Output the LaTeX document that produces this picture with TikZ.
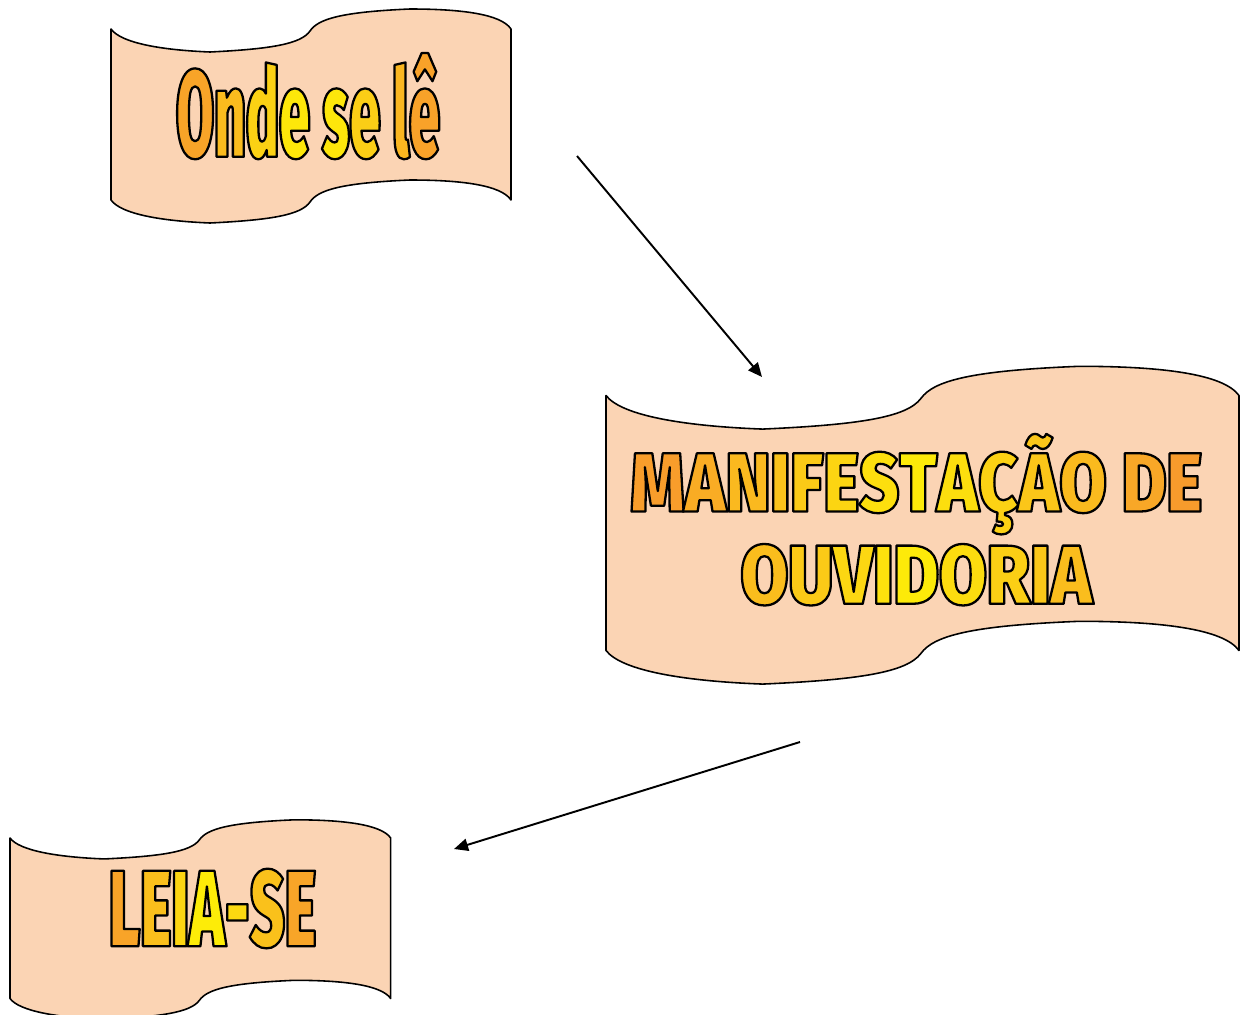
\documentclass[tikz,border=0pt]{standalone}
\usepackage{fontspec}
\usetikzlibrary{arrows.meta}
\definecolor{bannerfill}{HTML}{FBD4B4}
\definecolor{waOrange}{HTML}{F7962E}
\definecolor{waYellow}{HTML}{FFFF00}
% base face for the WordArt texts: the heaviest one that is found
\IfFontExistsTF{Fira Sans Black}
  {\newcommand\artfontname{Fira Sans Black}}
  {\IfFontExistsTF{Fira Sans Heavy}
    {\newcommand\artfontname{Fira Sans Heavy}}
    {\IfFontExistsTF{Lato Black}
      {\newcommand\artfontname{Lato Black}}
      {\IfFontExistsTF{Fira Sans ExtraBold}
        {\newcommand\artfontname{Fira Sans ExtraBold}}
        {\newcommand\artfontname{DejaVu Sans Bold}}}}}
% stroked outline: fill in the current colour, black stroke
\newcommand\artstroke{\special{pdf:literal direct 2 Tr 1.3 w 1 j}}
\newcommand\lc[2]{{\color{waYellow!#1!waOrange}\special{pdf:literal direct 0 G}#2}}
% texts, letter by letter coloured (yellow centre, orange ends)
\newcommand\txtOnde{\lc{13}{O}\lc{35}{n}\lc{56}{d}\lc{77}{e} \lc{76}{s}\lc{53}{e} \lc{30}{l}\lc{11}{ê}}
\newcommand\txtManif{\lc{7}{M}\lc{21}{A}\lc{33}{N}\lc{42}{I}\lc{50}{F}\lc{60}{E}\lc{70}{S}\lc{80}{T}\lc{69}{A}\lc{57}{Ç}\lc{46}{Ã}\lc{34}{O} \lc{16}{D}\lc{5}{E}}
\newcommand\txtOuvid{\lc{37}{O}\lc{50}{U}\lc{62}{V}\lc{71}{I}\lc{80}{D}\lc{67}{O}\lc{54}{R}\lc{46}{I}\lc{37}{A}}
\newcommand\txtLeia{\lc{13}{L}\lc{39}{E}\lc{60}{I}\lc{82}{A}\lc{64}{-}\lc{41}{S}\lc{14}{E}}
% build a stretched family so that the text gets the wanted width and cap height (px)
\newlength\artw \newlength\arth
\newcommand\makeart[4]{%
  \setbox0=\hbox{\fontspec{\artfontname}\fontsize{10pt}{12pt}\selectfont
     \global\arth=\fontcharht\font`H #4}%
  \global\artw=\wd0
  \pgfmathsetmacro\artsz{#3*0.5669291*10/\arth}%
  \pgfmathsetmacro\artst{#2*0.5669291/(\artw*\artsz/10)}%
  \expandafter\xdef\csname #1size\endcsname{\artsz}%
  \edef\arttmp{\noexpand\newfontfamily\expandafter\noexpand\csname #1\endcsname{\artfontname}[FakeStretch=\artst]}%
  \arttmp}
\makeart{artA}{265}{86.3}{\txtOnde}
\makeart{artB}{574}{58.4}{\txtManif}
\makeart{artC}{353}{58.4}{\txtOuvid}
\makeart{artD}{208}{75.7}{\txtLeia}
\tikzset{
  artglyph/.style={inner sep=0pt, outer sep=0pt, anchor=base west},
  banner/.style={fill=bannerfill, draw=black, line width=0.9pt, line join=round},
  conn/.style={draw=black, line width=1.1pt, -{Triangle[length=8pt,width=7pt]}},
}
% banner: x0, y0, W, H, amplitude scale
\newcommand\banner[5]{%
  \begin{scope}[shift={(#1,#2)}, xscale=#3/400]
  \path[banner] (0,0) .. controls (10,{14*#5}) and (50,{21*#5}) .. (99,{23*#5})
    .. controls (160,{20*#5}) and (190,{15*#5}) .. (199,{2*#5})
    .. controls (207,{-10*#5}) and (230,{-17*#5}) .. (299,{-20*#5})
    .. controls (350,{-20*#5}) and (390,{-15*#5}) .. (400,0)
    -- (400,#4)
    .. controls (390,{#4-15*#5}) and (350,{#4-20*#5}) .. (299,{#4-20*#5})
    .. controls (230,{#4-17*#5}) and (207,{#4-10*#5}) .. (199,{#4+2*#5})
    .. controls (190,{#4+15*#5}) and (160,{#4+20*#5}) .. (99,{#4+23*#5})
    .. controls (50,{#4+21*#5}) and (10,{#4+14*#5}) .. (0,#4)
    -- cycle;
  \end{scope}}
\begin{document}
\begin{tikzpicture}[x=0.02cm, y=-0.02cm]
\useasboundingbox (0,0) rectangle (1240,1014);
% banners
\banner{111}{29}{400}{171}{1}
\banner{606}{395.5}{633}{255}{1.46}
\banner{10}{838}{380.7}{160.5}{0.91}
% connectors
\coordinate (a1s) at (577,156);
\coordinate (a1e) at (762,377);
\coordinate (a2s) at (800,742);
\coordinate (a2e) at (454,849);
\draw[conn] (a1s) -- (a1e);
\draw[conn] (a2s) -- (a2e);
% texts
\node[artglyph] (onde) at (176,156.8)
  {\artA\fontsize{\artAsize pt}{70pt}\selectfont\artstroke\txtOnde};
\node[artglyph] (manif) at (630.5,511.5)
  {\artB\fontsize{\artBsize pt}{48pt}\selectfont\artstroke\txtManif};
\node[artglyph] (ouvid) at (740.5,603.8)
  {\artC\fontsize{\artCsize pt}{48pt}\selectfont\artstroke\txtOuvid};
\node[artglyph] (leia) at (109,946.2)
  {\artD\fontsize{\artDsize pt}{62pt}\selectfont\artstroke\txtLeia};
\end{tikzpicture}
\end{document}
